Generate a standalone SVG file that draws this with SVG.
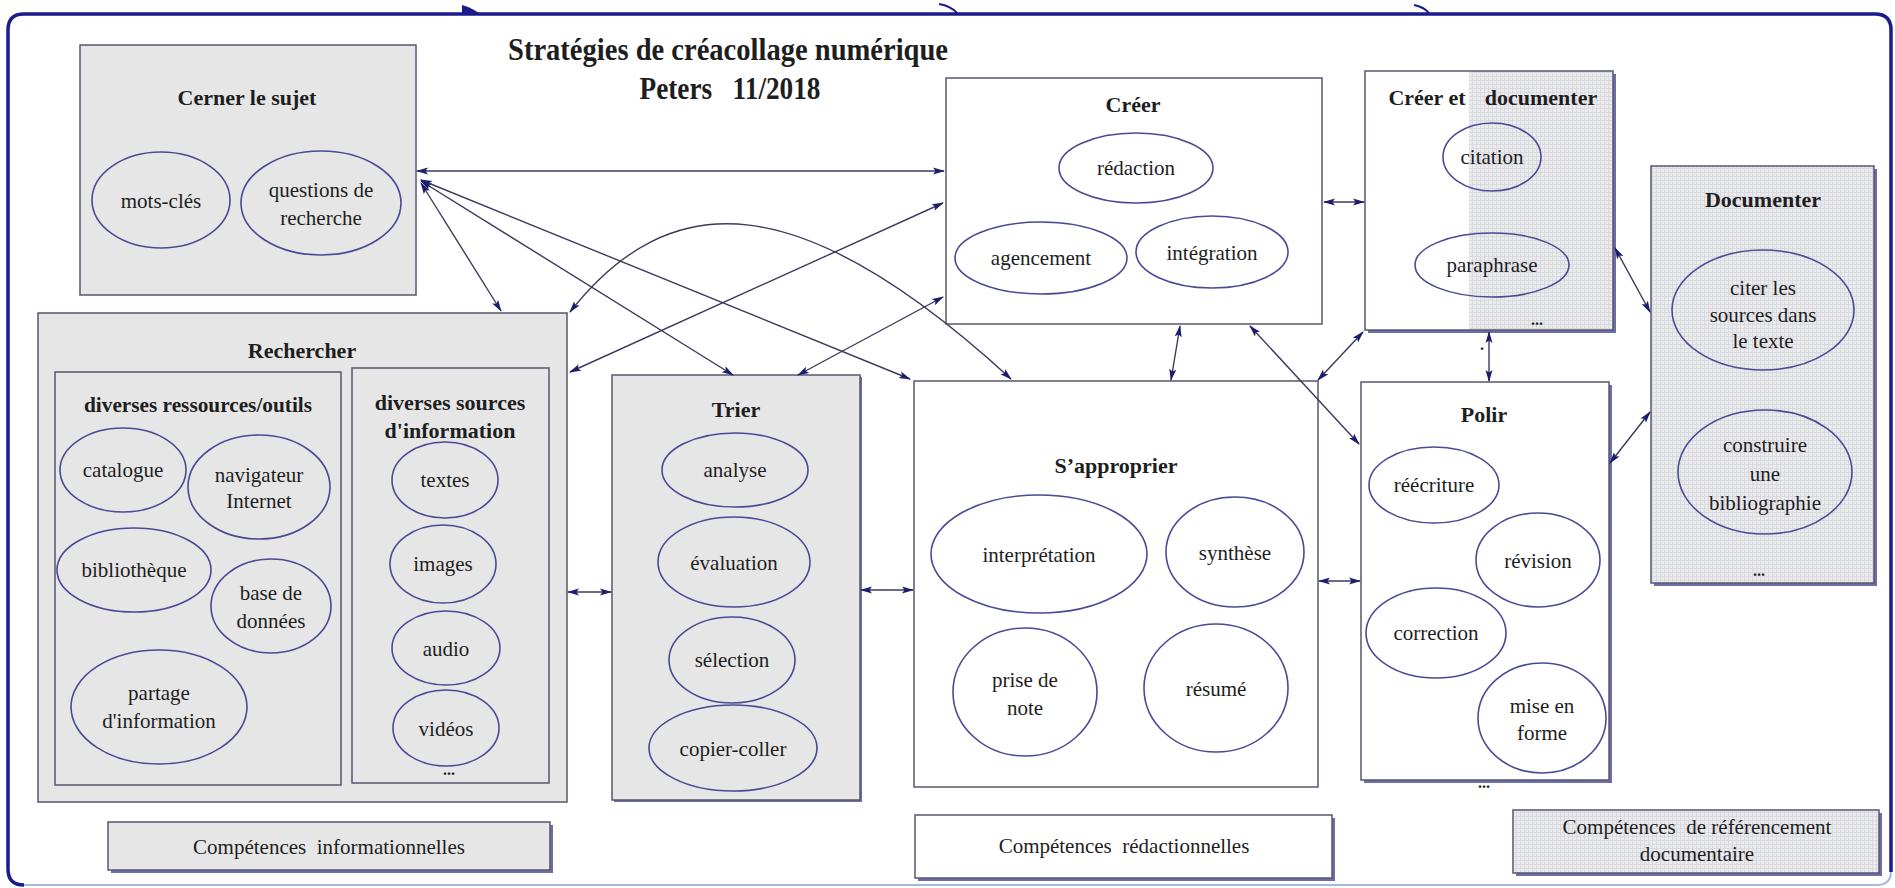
<svg xmlns="http://www.w3.org/2000/svg" width="1895" height="888" viewBox="0 0 1895 888">
<style>
text{font-family:"Liberation Serif","Times New Roman",serif;fill:#1e1e1e;text-anchor:middle;white-space:pre}
.t{font-size:21px}
.b{font-size:22px;font-weight:bold}
.h{font-size:32px;font-weight:bold}
.c{font-size:21px}
.d{font-size:16px;font-weight:bold}
.gray{fill:#e6e6e6;stroke:#57576f;stroke-width:1.5}
.white{fill:#ffffff;stroke:#57576f;stroke-width:1.5}
.dot{fill:url(#grid);stroke:#57576f;stroke-width:1.5}
.sh{fill:#6d6da8}
ellipse{fill:none;stroke:#4a4a96;stroke-width:1.6}
#connectors path{fill:none;stroke:#3a3a5c;stroke-width:1.4;marker-start:url(#ah);marker-end:url(#ah)}
</style>
<defs>
<pattern id="grid" width="4" height="4" patternUnits="userSpaceOnUse">
<rect width="4" height="4" fill="#ebebee"/>
<path d="M0,0.5H4M0.5,0V4" stroke="#d9d9e0" stroke-width="1"/>
</pattern>
<marker id="ah" viewBox="0 0 12 8" refX="11" refY="4" markerWidth="12" markerHeight="8" markerUnits="userSpaceOnUse" orient="auto-start-reverse">
<path d="M0,0.5 L12,4 L0,7.5 L2.5,4 z" fill="#1d1d6e"/>
</marker>
</defs>
<rect width="1895" height="888" fill="#ffffff"/>
<g id="frame">
<path d="M22,885 H1877 Q1891,885 1891,871" fill="none" stroke="#a9b9de" stroke-width="2"/>
<path d="M24,885 Q8,885 8,869 V30 Q8,14 24,14 H1875 Q1891,14 1891,30 V872" fill="none" stroke="#1b1b8e" stroke-width="3.5"/>
<path d="M462,5 Q468,6 479,13 L462,14 Z" fill="#1b1b8e"/>
<path d="M939,4 Q951,6 957,13" fill="none" stroke="#1b1b8e" stroke-width="2"/>
<path d="M1414,5 Q1424,7 1429,13" fill="none" stroke="#1b1b8e" stroke-width="2"/>
</g>
<g id="title">
<text class="h" x="728" y="60" textLength="440" lengthAdjust="spacingAndGlyphs">Stratégies de créacollage numérique</text>
<text class="h" x="730" y="99" textLength="181" lengthAdjust="spacingAndGlyphs" xml:space="preserve">Peters   11/2018</text>
</g>
<g id="cerner">
<rect class="gray" x="80" y="45" width="336" height="250"/>
<text class="b" x="247" y="105">Cerner le sujet</text>
<ellipse cx="161" cy="200" rx="69" ry="48"/>
<text class="t" x="161" y="208">mots-clés</text>
<ellipse cx="321" cy="203" rx="80" ry="52"/>
<text class="t" x="321" y="197">questions de</text>
<text class="t" x="321" y="225">recherche</text>
</g>
<g id="creer">
<rect class="white" x="946" y="78" width="376" height="246"/>
<text class="b" x="1133" y="112">Créer</text>
<ellipse cx="1136" cy="168" rx="77" ry="35"/>
<text class="t" x="1136" y="175">rédaction</text>
<ellipse cx="1041" cy="258" rx="86" ry="36"/>
<text class="t" x="1041" y="265">agencement</text>
<ellipse cx="1212" cy="252" rx="76" ry="36"/>
<text class="t" x="1212" y="260">intégration</text>
</g>
<g id="creer-documenter">
<rect class="sh" x="1368" y="74" width="248" height="259"/>
<rect fill="#ffffff" x="1365" y="71" width="248" height="259"/>
<rect fill="url(#grid)" x="1469" y="71" width="144" height="259"/>
<rect fill="none" stroke="#57576f" stroke-width="1.5" x="1365" y="71" width="248" height="259"/>
<text class="b" y="105"><tspan x="1427">Créer et</tspan><tspan x="1541">documenter</tspan></text>
<ellipse cx="1492" cy="157" rx="49" ry="34"/>
<text class="t" x="1492" y="164">citation</text>
<ellipse cx="1492" cy="265" rx="77" ry="32"/>
<text class="t" x="1492" y="272">paraphrase</text>
<text class="d" x="1537" y="325">...</text>
</g>
<g id="documenter">
<rect class="sh" x="1654" y="169" width="223" height="417"/>
<rect class="dot" x="1651" y="166" width="223" height="417"/>
<text class="b" x="1763" y="207">Documenter</text>
<ellipse cx="1763" cy="310" rx="91" ry="60"/>
<text class="t" x="1763" y="295">citer les</text>
<text class="t" x="1763" y="322">sources dans</text>
<text class="t" x="1763" y="348">le texte</text>
<ellipse cx="1765" cy="472" rx="87" ry="62"/>
<text class="t" x="1765" y="452">construire</text>
<text class="t" x="1765" y="481">une</text>
<text class="t" x="1765" y="510">bibliographie</text>
<text class="d" x="1759" y="576">...</text>
</g>
<g id="rechercher">
<rect class="gray" x="38" y="313" width="529" height="489"/>
<text class="b" x="302" y="358">Rechercher</text>
</g>
<g id="ressources-outils">
<rect class="gray" x="55" y="372" width="286" height="413"/>
<text class="b" x="198" y="412" textLength="228" lengthAdjust="spacingAndGlyphs">diverses ressources/outils</text>
<ellipse cx="123" cy="470" rx="63" ry="42"/>
<text class="t" x="123" y="477">catalogue</text>
<ellipse cx="259" cy="487" rx="71" ry="52"/>
<text class="t" x="259" y="482">navigateur</text>
<text class="t" x="259" y="508">Internet</text>
<ellipse cx="134" cy="570" rx="77" ry="42"/>
<text class="t" x="134" y="577">bibliothèque</text>
<ellipse cx="271" cy="606" rx="60" ry="47"/>
<text class="t" x="271" y="600">base de</text>
<text class="t" x="271" y="628">données</text>
<ellipse cx="159" cy="707" rx="88" ry="57"/>
<text class="t" x="159" y="700">partage</text>
<text class="t" x="159" y="728">d'information</text>
</g>
<g id="sources-information">
<rect class="gray" x="352" y="368" width="197" height="415"/>
<text class="b" x="450" y="410">diverses sources</text>
<text class="b" x="450" y="438">d'information</text>
<ellipse cx="445" cy="480" rx="53" ry="38"/>
<text class="t" x="445" y="487">textes</text>
<ellipse cx="443" cy="564" rx="53" ry="39"/>
<text class="t" x="443" y="571">images</text>
<ellipse cx="446" cy="648" rx="54" ry="37"/>
<text class="t" x="446" y="656">audio</text>
<ellipse cx="446" cy="728" rx="53" ry="38"/>
<text class="t" x="446" y="736">vidéos</text>
<text class="d" x="449" y="775">...</text>
</g>
<g id="trier">
<rect class="sh" x="614" y="377" width="248" height="425"/>
<rect class="gray" x="612" y="375" width="248" height="425"/>
<text class="b" x="736" y="417">Trier</text>
<ellipse cx="735" cy="470" rx="73" ry="37"/>
<text class="t" x="735" y="477">analyse</text>
<ellipse cx="734" cy="562" rx="76" ry="45"/>
<text class="t" x="734" y="570">évaluation</text>
<ellipse cx="732" cy="660" rx="63" ry="43"/>
<text class="t" x="732" y="667">sélection</text>
<ellipse cx="733" cy="748" rx="84" ry="43"/>
<text class="t" x="733" y="756">copier-coller</text>
</g>
<g id="sapproprier">
<rect class="white" x="914" y="381" width="404" height="406"/>
<text class="b" x="1116" y="473">S’approprier</text>
<ellipse cx="1039" cy="554" rx="108" ry="59"/>
<text class="t" x="1039" y="562">interprétation</text>
<ellipse cx="1235" cy="552" rx="69" ry="55"/>
<text class="t" x="1235" y="560">synthèse</text>
<ellipse cx="1025" cy="692" rx="72" ry="64"/>
<text class="t" x="1025" y="687">prise de</text>
<text class="t" x="1025" y="715">note</text>
<ellipse cx="1216" cy="688" rx="72" ry="64"/>
<text class="t" x="1216" y="696">résumé</text>
</g>
<g id="polir">
<rect class="sh" x="1364" y="385" width="248" height="398"/>
<rect class="white" x="1361" y="382" width="248" height="398"/>
<text class="b" x="1484" y="422">Polir</text>
<ellipse cx="1434" cy="485" rx="65" ry="38"/>
<text class="t" x="1434" y="492">réécriture</text>
<ellipse cx="1538" cy="560" rx="62" ry="47"/>
<text class="t" x="1538" y="568">révision</text>
<ellipse cx="1436" cy="633" rx="70" ry="45"/>
<text class="t" x="1436" y="640">correction</text>
<ellipse cx="1542" cy="718" rx="64" ry="55"/>
<text class="t" x="1542" y="713">mise en</text>
<text class="t" x="1542" y="740">forme</text>
<text class="d" x="1484" y="788">...</text>
</g>
<g id="competences-informationnelles">
<rect class="sh" x="111" y="825" width="442" height="48"/>
<rect class="gray" x="108" y="822" width="442" height="48"/>
<text class="c" x="329" y="854" xml:space="preserve">Compétences  informationnelles</text>
</g>
<g id="competences-redactionnelles">
<rect class="sh" x="918" y="818" width="417" height="63"/>
<rect class="white" x="915" y="815" width="417" height="63"/>
<text class="c" x="1124" y="853" xml:space="preserve">Compétences  rédactionnelles</text>
</g>
<g id="competences-referencement">
<rect class="sh" x="1516" y="813" width="366" height="63"/>
<rect class="dot" x="1513" y="810" width="366" height="63"/>
<text class="c" x="1697" y="834" xml:space="preserve">Compétences  de référencement</text>
<text class="c" x="1697" y="861">documentaire</text>
</g>
<g id="connectors">
<path d="M417,171 L944,171"/>
<path d="M421,183 L501,311"/>
<path d="M421,181 L733,375"/>
<path d="M421,180 L910,379"/>
<path d="M943,203 L570,372"/>
<path d="M943,297 L798,375"/>
<path d="M570,312 C670,185 800,185 1011,379"/>
<path d="M1180,326 L1171,380"/>
<path d="M1250,326 L1359,444"/>
<path d="M1363,332 L1318,380"/>
<path d="M1489,332 L1489,381"/>
<path d="M1324,202 L1364,202"/>
<path d="M1615,248 L1650,312"/>
<path d="M1610,463 L1650,412"/>
<path d="M568,592 L611,592"/>
<path d="M861,590 L913,590"/>
<path d="M1319,581 L1360,581"/>
</g>
<text class="d" x="1482" y="350">.</text>
</svg>
